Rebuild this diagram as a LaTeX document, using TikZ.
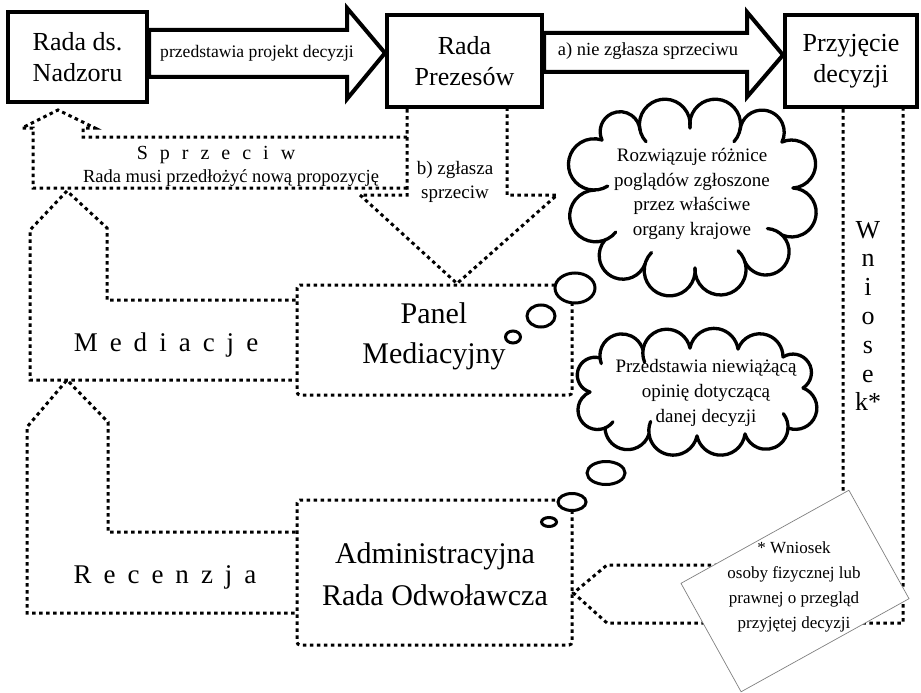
\documentclass[tikz,border=0pt]{standalone}
\usepackage{fontspec}
\setmainfont{Liberation Serif}
\usetikzlibrary{shapes.geometric,calc}
\newcommand\lsgap{\hspace{12pt}}
% list of puffs xA/yA/xB/yB/arc angle/extension at A/extension at B
\newcommand\cloudpuffs[1]{%
  \foreach \xA/\yA/\xB/\yB/\phA/\eA/\eB in {#1}{%
    \pgfmathsetmacro\cdx{\xB-\xA}%
    \pgfmathsetmacro\cdy{\yB-\yA}%
    \pgfmathsetmacro\clen{sqrt(\cdx*\cdx+\cdy*\cdy)}%
    \pgfmathsetmacro\crr{\clen/(2*sin(\phA/2))}%
    \pgfmathsetmacro\chh{\crr*cos(\phA/2)}%
    \pgfmathsetmacro\ccx{(\xA+\xB)/2-\cdy/\clen*\chh}%
    \pgfmathsetmacro\ccy{(\yA+\yB)/2+\cdx/\clen*\chh}%
    \pgfmathsetmacro\angA{atan2(\yA-\ccy,\xA-\ccx)}%
    \pgfmathsetmacro\angS{\angA-\eA}%
    \pgfmathsetmacro\angE{\angA+\phA+\eB}%
    \draw[cloudline] (\ccx,\ccy) ++(\angS:\crr) arc[start angle=\angS, end angle=\angE, radius=\crr];
  }%
}
\begin{document}
\begin{tikzpicture}[x=1pt,y=-1pt,
  solidbox/.style={draw, line width=4pt, fill=white, inner sep=0pt, align=center, font=\fontsize{26}{31}\selectfont},
  dotline/.style={line width=3pt, dash pattern=on 3.5pt off 3.5pt},
  dotbox/.style={draw, dotline, rounded corners=3pt, inner sep=0pt},
  blockarrow/.style={draw, line width=4pt, fill=white, line join=miter, miter limit=10},
  cloudline/.style={line width=3.3pt, line cap=round},
  bubble/.style={ellipse, draw, line width=3pt, fill=white, inner sep=0pt},
  lbl/.style={align=center, inner sep=0pt},
]
\useasboundingbox (0,0) rectangle (921,693);

% solid boxes
\node[solidbox, minimum width=139pt, minimum height=90pt] (nadzor) at (77.5,57) {Rada ds.\\Nadzoru};
\node[solidbox, minimum width=155pt, minimum height=92pt] (prezes) at (464.5,61) {Rada\\Prezesów};
\node[solidbox, minimum width=132pt, minimum height=92pt] (przyj) at (851,61) {Przyjęcie\\decyzji};

% block arrows
\draw[blockarrow] (nadzor.east |- 0,30) -- (347,30) -- (347,8) -- (prezes.west |- 0,53) -- (347,99) -- (347,77) -- (nadzor.east |- 0,77) -- cycle;
\draw[blockarrow] (prezes.east |- 0,33) -- (747,33) -- (747,12) -- (przyj.west |- 0,55) -- (747,97) -- (747,72) -- (prezes.east |- 0,72) -- cycle;
\node[lbl, font=\fontsize{17.6}{22}\selectfont] (l1) at (257,53) {przedstawia projekt decyzji};
\node[lbl, font=\fontsize{18.5}{22}\selectfont] (l2) at (648,51) {a) nie zgłasza sprzeciwu};

% dotted boxes
\node[dotbox, minimum width=275pt, minimum height=110pt] (panel) at (434.5,340) {};
\node[dotbox, minimum width=275pt, minimum height=145pt] (admin) at (434.5,572.5) {};
\node[lbl, font=\fontsize{30}{40}\selectfont] at (434,336) {Panel\\Mediacyjny};
\node[lbl, font=\fontsize{30}{42}\selectfont] at (435,574) {Administracyjna\\Rada Odwoławcza};

% b) zgłasza sprzeciw -> panel
\draw[dotline] (prezes.south -| 407,0) -- (407,195) -- (360,195) -- (panel.north -| 457,0) -- (557,195) -- (507,195) -- (prezes.south -| 507,0);
\node[lbl, font=\fontsize{19}{24}\selectfont] at (455,182) {b) zgłasza\\sprzeciw};

% Sprzeciw -> nadzor
\draw[dotline] (407,137) -- (83,137) -- (83,128) -- (95,128) -- (58,110) -- (22,128) -- (33,128) -- (33,188) -- (407,188);
\node[lbl, font=\fontsize{20}{24}\selectfont] at (216,155) {S\lsgap p\lsgap r\lsgap z\lsgap e\lsgap c\lsgap i\lsgap w};
\node[lbl, font=\fontsize{18.5}{22}\selectfont] at (231,178) {Rada musi przedłożyć nową propozycję};

% Mediacje
\draw[dotline] (panel.west |- 0,300) -- (107,300) -- (107,228) -- (67,191) -- (30,230) -- (30,380) -- (panel.west |- 0,380);
\node[lbl, font=\fontsize{27}{32}\selectfont] at (166,345) {M\lsgap e\lsgap d\lsgap i\lsgap a\lsgap c\lsgap j\lsgap e};

% Recenzja
\draw[dotline] (admin.west |- 0,532) -- (108,532) -- (108,422) -- (67,380) -- (27,427) -- (27,613) -- (admin.west |- 0,613);
\node[lbl, font=\fontsize{27}{32}\selectfont] at (165,577) {R\lsgap e\lsgap c\lsgap e\lsgap n\lsgap z\lsgap j\lsgap a};

% Wniosek
\draw[dotline] (przyj.south -| 843,0) -- (843,565) -- (607,565) -- (admin.east |- 0,593) -- (607,623) -- (903,623) -- (przyj.south -| 903,0);
\node[lbl, font=\fontsize{26}{28.8}\selectfont] at (868,316) {W\\n\\i\\o\\s\\e\\k*};

% note
\node[draw=gray, line width=0.7pt, fill=white, rotate=29, minimum width=192pt, minimum height=124pt, inner sep=0pt] (note) at (795,591) {};
\node[lbl, font=\fontsize{17}{25}\selectfont] at (794,587) {* Wniosek\\osoby fizycznej lub\\prawnej o przegląd\\przyjętej decyzji};

% thought cloud A
\coordinate (cloudA) at (693,198);
\cloudpuffs{602/140/640/130/200/0/0, 640/130/690/128/200/30/0, 690/128/740/130/200/0/30, 740/130/782/142/200/0/0, 782/142/793/188/200/0/0, 793/188/782/235/200/0/0, 782/235/745/262/200/40/0, 745/262/695/268/200/30/0, 695/268/645/264/200/0/30, 645/264/605/240/200/0/0, 605/240/595/190/200/30/0, 595/190/602/140/200/30/0}
\node[lbl, font=\fontsize{19}{24.5}\selectfont] at (692,194) {Rozwiązuje różnice\\poglądów zgłoszone\\przez właściwe\\organy krajowe};
\node[bubble, minimum width=40pt, minimum height=30pt] (a1) at (575,288) {};
\node[bubble, minimum width=28pt, minimum height=22pt] (a2) at (541,316) {};
\node[bubble, minimum width=15pt, minimum height=12pt] (a3) at (513,337) {};

% thought cloud B
\coordinate (cloudB) at (696,392);
\cloudpuffs{600/358/643/350/170/15/0, 643/350/690/348/160/30/0, 690/348/738/349/160/0/0, 738/349/783/357/160/0/0, 783/357/803/388/180/0/0, 803/388/788/428/180/0/0, 788/428/745/434/160/40/0, 745/434/697/436/160/0/0, 697/436/649/434/160/0/30, 649/434/605/428/160/0/0, 605/428/590/392/180/30/0, 590/392/600/358/180/0/0}
\node[lbl, font=\fontsize{19}{25}\selectfont] at (706,393) {Przedstawia niewiążącą\\opinię dotyczącą\\danej decyzji};
\node[bubble, minimum width=38pt, minimum height=23pt] (b1) at (606,473) {};
\node[bubble, minimum width=28pt, minimum height=17pt] (b2) at (572,502) {};
\node[bubble, minimum width=15pt, minimum height=9pt] (b3) at (549,522) {};
\end{tikzpicture}
\end{document}
